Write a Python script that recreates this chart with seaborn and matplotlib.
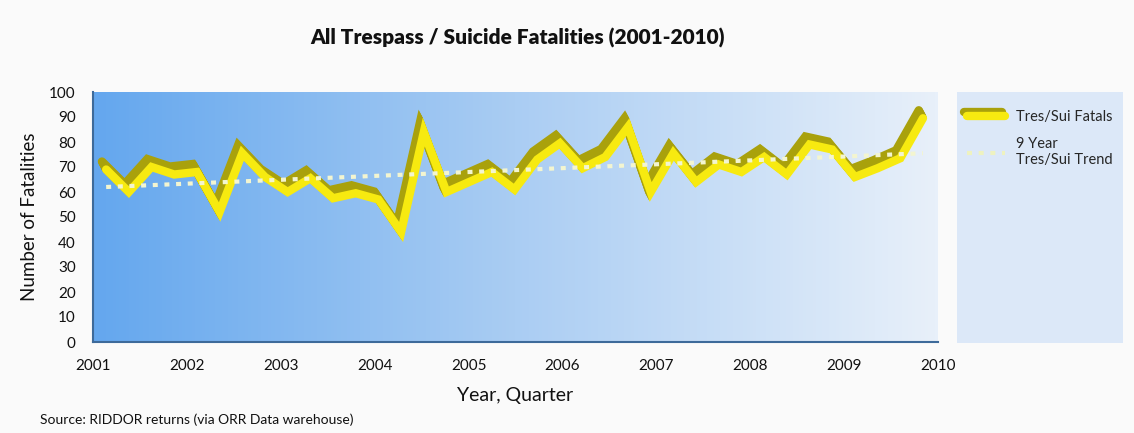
import numpy as np
import pandas as pd
import matplotlib
matplotlib.use('Agg')
import matplotlib.pyplot as plt
import matplotlib.patheffects as pe
from matplotlib.colors import LinearSegmentedColormap
from matplotlib.lines import Line2D
import seaborn as sns

# Quarterly trespass / suicide fatalities
fatalities = [69, 60, 70, 67, 68, 52, 75.5, 66, 60, 65.5,
              57.5, 59.5, 57, 44, 84, 60, 64, 68, 61, 73,
              79.5, 69.5, 74, 86, 60, 75.5, 64, 71, 68, 74,
              67, 79, 77, 66, 69.5, 73.5, 89.5]
first_quarter = 2001.14
last_quarter = 2009.84
trend_start = 62
trend_end = 75.5
year_ticks = list(range(2001, 2011))
y_ticks = list(range(0, 101, 10))

sns.set_style('white')
plt.rcParams['font.family'] = ['Lato', 'DejaVu Sans']

quarters = np.linspace(first_quarter, last_quarter, len(fatalities))
df = pd.DataFrame({'quarter': quarters, 'fatalities': fatalities})
trend = pd.DataFrame({'quarter': [first_quarter, last_quarter],
                      'fatalities': [trend_start, trend_end]})

fig = plt.figure(figsize=(11.34, 4.33), dpi=100)
fig.patch.set_facecolor('#fafafa')
ax = fig.add_axes([93 / 1134, 1 - 342 / 433, 845 / 1134, 250 / 433])

# blue -> white gradient background
cmap = LinearSegmentedColormap.from_list('bg', ['#64a7ee', '#aacdf3', '#e8f0fa'])
ax.imshow(np.linspace(0, 1, 256)[None, :], cmap=cmap, aspect='auto',
          extent=[2001, 2010, 0, 100], zorder=0)

# extruded "3D" ribbon: olive top face, yellow front face
steps = 8
for k in range(1, steps + 1):
    shadow = df.assign(quarter=df['quarter'] - 0.045 * k / steps,
                       fatalities=df['fatalities'] + 3.2 * k / steps)
    sns.lineplot(data=shadow, x='quarter', y='fatalities', ax=ax, color='#a9a10c',
                 lw=6, sort=False, zorder=2, solid_joinstyle='miter')
sns.lineplot(data=df, x='quarter', y='fatalities', ax=ax, color='#f7ea10',
             lw=6, sort=False, zorder=3, solid_joinstyle='miter')
sns.lineplot(data=trend, x='quarter', y='fatalities', ax=ax, color='#f3f5d0',
             lw=3, linestyle=(0, (1.2, 1.6)), zorder=4)

ax.set_xlim(2001, 2010)
ax.set_ylim(0, 100)
ax.set_yticks(y_ticks)
ax.set_xticks(year_ticks)
ax.set_xticks(np.arange(2001, 2010.01, 0.25), minor=True)
ax.tick_params(axis='both', which='both', direction='out', color='#3d6a9a',
               labelsize=11, labelcolor='#111111')
ax.tick_params(axis='y', length=9, width=1)
ax.tick_params(axis='x', which='both', length=6, width=1, pad=6)
for side in ['top', 'right']:
    ax.spines[side].set_visible(False)
for side in ['left', 'bottom']:
    ax.spines[side].set_color('#3d6a9a')
    ax.spines[side].set_linewidth(1.5)
ax.set_xlabel('Year, Quarter', fontsize=14, labelpad=10, color='#111111')
ax.set_ylabel('Number of Fatalities', fontsize=13.5, labelpad=8, color='#111111')

fig.text(0.456, 0.912, 'All Trespass / Suicide Fatalities (2001-2010)',
         ha='center', va='center', fontsize=15, fontweight='heavy', color='#111111')
fig.text(40 / 1134, 1 - 420 / 433, 'Source: RIDDOR returns (via ORR Data warehouse)',
         ha='left', va='center', fontsize=10, color='#111111')

# legend panel
lax = fig.add_axes([957 / 1134, 1 - 343 / 433, 166 / 1134, 251 / 433])
lax.set_facecolor('#dce8f8')
lax.set_xticks([])
lax.set_yticks([])
for s in lax.spines.values():
    s.set_visible(False)
handles = [Line2D([], [], color='#f7ea10', lw=6),
           Line2D([], [], color='#eef2c0', lw=3, linestyle=(0, (1.2, 1.6)))]
handles[0].set_path_effects([pe.Stroke(linewidth=6, foreground='#a9a10c', offset=(-2, 3)),
                             pe.Normal()])
leg = lax.legend(handles, ['Tres/Sui Fatals', '9 Year\nTres/Sui Trend'],
                 loc='upper left', frameon=False, fontsize=10.5,
                 handlelength=2.6, labelspacing=0.9, borderaxespad=0.5,
                 bbox_to_anchor=(-0.02, 0.98))

fig.savefig('out.png', dpi=100, facecolor=fig.get_facecolor())
